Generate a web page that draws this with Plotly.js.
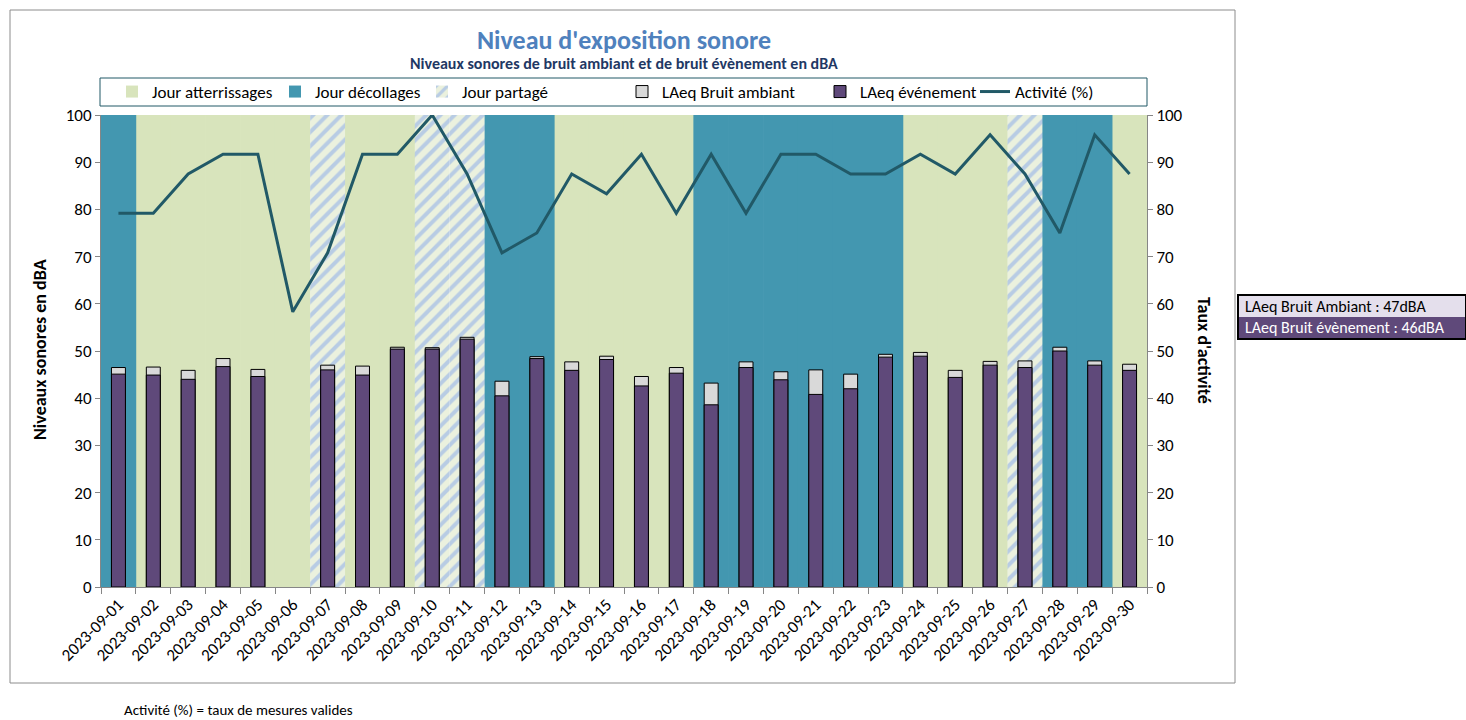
<!DOCTYPE html>
<html><head><meta charset="utf-8">
<script src="https://cdn.plot.ly/plotly-3.0.1.min.js"></script>
<style>body{margin:0;background:#fff}#chart{width:1466px;height:720px}</style>
</head><body><div id="chart"></div>
<script>
const dates = ['2023-09-01','2023-09-02','2023-09-03','2023-09-04','2023-09-05','2023-09-06','2023-09-07','2023-09-08','2023-09-09','2023-09-10',
  '2023-09-11','2023-09-12','2023-09-13','2023-09-14','2023-09-15','2023-09-16','2023-09-17','2023-09-18','2023-09-19','2023-09-20',
  '2023-09-21','2023-09-22','2023-09-23','2023-09-24','2023-09-25','2023-09-26','2023-09-27','2023-09-28','2023-09-29','2023-09-30'];
// A = atterrissages, D = décollages, P = partagé
const dayType = ['D','A','A','A','A','A','P','A','A','P','P','D','D','A','A','A','A','D','D','D','D','D','D','A','A','A','P','D','D','A'];
const ambient = [46.5,46.6,45.9,48.4,46.1,null,47.0,46.8,50.8,50.7,52.9,43.6,48.8,47.7,48.9,44.6,46.5,43.2,47.7,45.6,46.0,45.1,49.3,49.7,45.9,47.8,47.9,50.8,47.9,47.2];
const eventLvl = [45.1,44.9,44.0,46.7,44.6,null,46.0,44.9,50.4,50.4,52.5,40.5,48.4,45.9,48.2,42.6,45.3,38.6,46.5,43.9,40.8,42.0,48.7,48.9,44.4,47.0,46.5,50.0,47.0,45.9];
const activity = [79.2,79.2,87.5,91.7,91.7,58.3,70.8,91.7,91.7,100,87.5,70.8,75.0,87.5,83.3,91.7,79.2,91.7,79.2,91.7,91.7,87.5,87.5,91.7,87.5,95.8,87.5,75.0,95.8,87.5];
const bandTop = 100;
const summaryAmbient = 'LAeq Bruit Ambiant : 47dBA';
const summaryEvent = 'LAeq Bruit évènement : 46dBA';

const FONT = 'Carlito, Lato, sans-serif';
const L=101, R=1147, T=115, B=587;
const px = x => (x-L)/(R-L);
const py = y => (B-y)/(B-T);

function band(code){ return dayType.map(t => t===code ? bandTop : null); }

const traces = [
  {type:'bar', name:'Jour atterrissages', x:dates, y:band('A'), width:1.02, marker:{color:'#D8E4BC', line:{width:0}}, hoverinfo:'skip', legendwidth:118},
  {type:'bar', name:'Jour décollages', x:dates, y:band('D'), width:1.02, marker:{color:'#4397B0', line:{width:0}}, hoverinfo:'skip', legendwidth:102},
  {type:'bar', name:'Jour partagé', x:dates, y:band('P'), width:1.0, marker:{color:'#EBF1DE', line:{width:0}, pattern:{shape:'/', fgcolor:'#B8CCE4', bgcolor:'#EBF1DE', size:10, solidity:0.4}}, hoverinfo:'skip', legendwidth:155},
  {type:'bar', name:'LAeq Bruit ambiant', x:dates, y:ambient, width:0.4, marker:{color:'#D9D9D9', line:{color:'#000', width:1}}, legendwidth:153},
  {type:'bar', name:'LAeq événement', x:dates, y:eventLvl, width:0.4, marker:{color:'#5F497A', line:{color:'#000', width:1}}, legendwidth:110},
  {type:'scatter', mode:'lines', name:'Activité (%)', x:dates, y:activity, yaxis:'y2', line:{color:'#215967', width:3}, legendwidth:100}
];

const axisCommon = {showgrid:false, zeroline:false, showline:true, linecolor:'#868686', linewidth:1, ticks:'outside', ticklen:5, tickcolor:'#868686', tickfont:{family:FONT, size:17, color:'#000'}};

const layout = {
  width:1466, height:720,
  margin:{l:L, r:1466-R, t:T, b:720-B, pad:0},
  paper_bgcolor:'#fff', plot_bgcolor:'#fff',
  font:{family:FONT, color:'#000'},
  barmode:'overlay',
  showlegend:true,
  legend:{orientation:'h', x:px(112), xanchor:'left', y:py(92), yanchor:'middle', font:{family:FONT, size:17, color:'#000'}, bgcolor:'rgba(0,0,0,0)', borderwidth:0, traceorder:'normal'},
  title:{text:"Niveau d'exposition sonore", font:{family:FONT, size:26, color:'#4F81BD', weight:'bold'}, x:0.5, xref:'paper', xanchor:'center', y:1-40/720, yref:'container', yanchor:'middle'},
  xaxis:Object.assign({}, axisCommon, {type:'category', range:[-0.5,29.5], tickson:'boundaries', tickangle:-45, tickfont:{family:FONT, size:17, color:'#000'}, ticklen:6}),
  yaxis:Object.assign({}, axisCommon, {range:[0,100], dtick:10}),
  yaxis2:Object.assign({}, axisCommon, {range:[0,100], dtick:10, overlaying:'y', side:'right'}),
  shapes:[
    {type:'rect', xref:'paper', yref:'paper', x0:px(10), x1:px(1235), y0:py(683), y1:py(10), line:{color:'#8C8C8C', width:1}, layer:'below'},
    {type:'rect', xref:'paper', yref:'paper', x0:px(100), x1:px(1147), y0:py(106), y1:py(78), line:{color:'#215967', width:1}},
    {type:'rect', xref:'paper', yref:'paper', x0:px(1239), x1:px(1465), y0:py(317), y1:py(296), fillcolor:'#E4DFEC', line:{width:0}},
    {type:'rect', xref:'paper', yref:'paper', x0:px(1239), x1:px(1465), y0:py(338), y1:py(317), fillcolor:'#5F497A', line:{width:0}},
    {type:'rect', xref:'paper', yref:'paper', x0:px(1238), x1:px(1466), y0:py(339), y1:py(295), line:{color:'#000', width:2}}
  ],
  annotations:[
    {text:'Niveaux sonores de bruit ambiant et de bruit évènement en dBA', xref:'paper', yref:'paper', x:0.5, y:py(63), xanchor:'center', yanchor:'middle', showarrow:false, font:{family:FONT, size:16, color:'#1F3864', weight:'bold'}},
    {text:'Niveaux sonores en dBA', xref:'paper', yref:'paper', x:px(40), y:py(350), textangle:-90, xanchor:'center', yanchor:'middle', showarrow:false, font:{family:FONT, size:18, color:'#000', weight:'bold'}},
    {text:"Taux d'activité", xref:'paper', yref:'paper', x:px(1204), y:py(350), textangle:90, xanchor:'center', yanchor:'middle', showarrow:false, font:{family:FONT, size:18, color:'#000', weight:'bold'}},
    {text:'Activité (%) = taux de mesures valides', xref:'paper', yref:'paper', x:px(122), y:py(710), xanchor:'left', yanchor:'middle', showarrow:false, font:{family:FONT, size:15, color:'#000'}},
    {text:summaryAmbient, xref:'paper', yref:'paper', x:px(1243), y:py(306.5), xanchor:'left', yanchor:'middle', showarrow:false, font:{family:FONT, size:16, color:'#000'}},
    {text:summaryEvent, xref:'paper', yref:'paper', x:px(1243), y:py(327.5), xanchor:'left', yanchor:'middle', showarrow:false, font:{family:FONT, size:16, color:'#fff'}}
  ]
};

Plotly.newPlot('chart', traces, layout, {displayModeBar:false, staticPlot:true});
</script>
</body></html>
